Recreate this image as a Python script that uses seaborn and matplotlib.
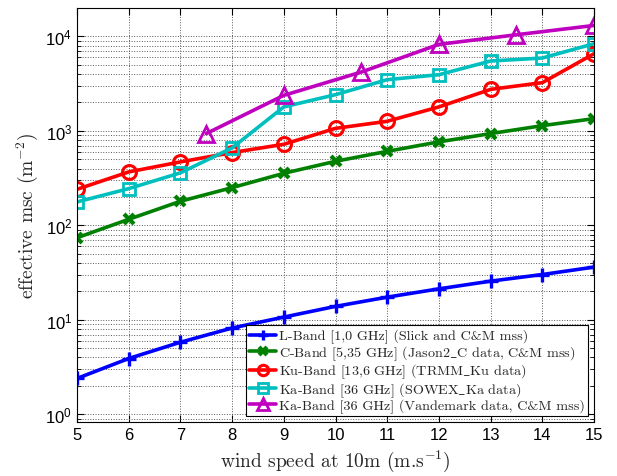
import pandas as pd
import seaborn as sns
import matplotlib.pyplot as plt
from matplotlib.font_manager import FontProperties
from matplotlib.ticker import LogLocator, NullFormatter, LogFormatterMathtext

wind = [5, 6, 7, 8, 9, 10, 11, 12, 13, 14, 15]
l_band = [2.4, 3.9, 5.8, 8.2, 10.7, 13.9, 17.4, 21.3, 25.7, 30.2, 36.2]
c_band = [74, 116, 180, 251, 356, 477, 608, 766, 937, 1137, 1349]
ku_band = [241, 368, 470, 590, 722, 1065, 1265, 1795, 2754, 3243, 6560]
ka_sowex = [177, 245, 360, 661, 1795, 2420, 3487, 3936, 5495, 5910, 8375]
wind_vdm = [7.5, 9, 10.5, 12, 13.5, 15]
ka_vdm = [937, 2380, 4200, 8240, 10420, 13070]

labels = [
    "L-Band [1,0 GHz] (Slick and C&M mss)",
    r"C-Band [5,35 GHz] (Jason2$\_$C data, C&M mss)",
    r"Ku-Band [13,6 GHz] (TRMM$\_$Ku data)",
    r"Ka-Band [36 GHz] (SOWEX$\_$Ka data)",
    "Ka-Band [36 GHz] (Vandemark data, C&M mss)",
]

if __name__ == '__main__':
    sns.set_style("ticks")
    plt.rcParams['font.family'] = ['Liberation Sans', 'DejaVu Sans']
    plt.rcParams['axes.unicode_minus'] = False
    serif = ['cmr10', 'DejaVu Serif']

    fig, ax = plt.subplots(figsize=(6.17, 4.77), dpi=100)
    fig.subplots_adjust(left=77 / 617, right=594 / 617, bottom=1 - 423 / 477, top=1 - 9 / 477)

    series = [
        (wind, l_band, 'b', '+', 'b', 10, 2.4),
        (wind, c_band, 'g', 'x', 'g', 7, 3.0),
        (wind, ku_band, 'r', 'o', 'none', 10, 2.2),
        (wind, ka_sowex, 'c', 's', 'none', 9, 2.0),
        (wind_vdm, ka_vdm, 'm', '^', 'none', 12, 2.0),
    ]
    for (x, y, col, mk, mfc, ms, mew), lab in zip(series, labels):
        df = pd.DataFrame({'wind': x, 'msc': y})
        sns.lineplot(data=df, x='wind', y='msc', ax=ax, color=col, marker=mk,
                     markerfacecolor=mfc, markeredgecolor=col, markersize=ms,
                     markeredgewidth=mew, linewidth=2.6, label=lab)

    ax.set_yscale('log')
    ax.set_xlim(5, 15)
    ax.set_ylim(0.83, 2.0e4)
    ax.set_xticks(range(5, 16))
    ax.yaxis.set_major_locator(LogLocator(base=10, numticks=10))
    ax.yaxis.set_minor_locator(LogLocator(base=10, subs=range(2, 10), numticks=20))
    ax.yaxis.set_major_formatter(LogFormatterMathtext())
    ax.yaxis.set_minor_formatter(NullFormatter())

    ax.grid(True, which='major', axis='both', ls=':', color='0.35', lw=0.7)
    ax.grid(True, which='minor', axis='y', ls=':', color='0.35', lw=0.7)
    ax.tick_params(which='both', direction='in', top=True, right=True, labelsize=12, colors='k')
    ax.tick_params(which='major', length=5)
    ax.tick_params(which='minor', length=3)
    for s in ax.spines.values():
        s.set_color('k')
        s.set_linewidth(0.8)

    ax.set_xlabel(r"wind speed at 10m (m.s$^{-1}$)", family=serif, math_fontfamily='cm', fontsize=14)
    ax.set_ylabel(r"effective msc (m$^{-2}$)", family=serif, math_fontfamily='cm', fontsize=14)

    leg_font = FontProperties(family=serif, size=10.2, math_fontfamily='cm')
    leg = ax.legend(loc='lower right', prop=leg_font, fancybox=False, markerscale=0.75,
                    framealpha=1, edgecolor='k', labelspacing=0.0, handlelength=1.9,
                    handleheight=0.6, handletextpad=0.2, borderpad=0.25, borderaxespad=0.4)
    leg.get_frame().set_linewidth(0.8)

    fig.savefig('out.png', dpi=100)
